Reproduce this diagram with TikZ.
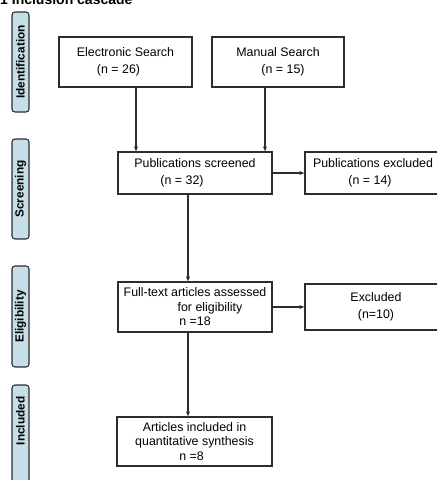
\documentclass[tikz,border=0pt]{standalone}
\usepackage{fontspec}
\setmainfont{Liberation Sans}
\usetikzlibrary{arrows.meta}
\definecolor{stageblue}{RGB}{197,222,232}
\definecolor{linegray}{RGB}{45,45,45}
\tikzset{
  box/.style={draw=linegray, line width=1.3pt, fill=white, rectangle,
    inner sep=0pt, align=center, font=\fontsize{12.4}{16.5}\selectfont},
  stage/.style={draw=linegray, line width=1.1pt, fill=stageblue,
    rounded corners=3pt, minimum width=17pt, inner sep=0pt},
  stagelabel/.style={rotate=90, font=\bfseries\fontsize{11.8}{12}\selectfont},
  flow/.style={draw=linegray, line width=1.1pt,
    -{Stealth[length=5pt,width=4pt]}},
}
\begin{document}
\begin{tikzpicture}[x=1pt,y=-1pt]
\useasboundingbox (0,0) rectangle (437,480);
\fill[white] (0,0) rectangle (437,480);

% caption, cut by the page edge
\node[anchor=base west, inner sep=0pt, font=\bfseries\fontsize{14}{16}\selectfont]
  (title) at (0,4.5) {1 Inclusion cascade};

% stage bars on the left
\node[stage, minimum height=100pt] (sid) at (20.5,62) {};
\node[stagelabel] (lid) at (sid.center) {Identification};
\node[stage, minimum height=100pt] (ssc) at (20.5,189) {};
\node[stagelabel] (lsc) at (ssc.center) {Screening};
\node[stage, minimum height=101pt] (sel) at (20.5,316.5) {};
\node[stagelabel] (lel) at (sel.center) {Eligibility};
\node[stage, minimum height=105pt] (sin) at (20.5,437.5) {};
\node[stagelabel] (lin) at (20.5,421) {Included};

% flow boxes
\node[box, minimum width=133pt, minimum height=50pt] (elec) at (125.5,62)
  {Electronic Search\\\hspace*{-14pt}(n = 26)};
\node[box, minimum width=132pt, minimum height=50pt] (manual) at (278,62)
  {Manual Search\\\hspace*{10pt}(n = 15)};
\node[box, minimum width=154pt, minimum height=42pt] (screened) at (195,173)
  {Publications screened\\\hspace*{-26pt}(n = 32)};
\node[box, minimum width=136pt, minimum height=42pt] (pubexcl) at (373,173)
  {Publications excluded\\\hspace*{-6pt}(n = 14)};
\node[box, minimum width=154pt, minimum height=50pt,
  font=\fontsize{12.4}{14.5}\selectfont] (fulltext) at (195,307)
  {Full-text articles assessed\\\hspace*{30pt}for eligibility\\n =18};
\node[box, minimum width=142pt, minimum height=46pt] (excl) at (376,307)
  {Excluded\\(n=10)};
\node[box, minimum width=155pt, minimum height=49pt,
  font=\fontsize{12.4}{14.5}\selectfont] (incl) at (194.5,441.5)
  {Articles included in\\quantitative synthesis\\\hspace*{-6pt}n =8};

% connectors
\draw[flow] ([xshift=10.5pt]elec.south) -- ([xshift=10.5pt]elec.south |- screened.north);
\draw[flow] ([xshift=-13pt]manual.south) -- ([xshift=-13pt]manual.south |- screened.north);
\draw[flow] ([xshift=-7pt]screened.south) -- ([xshift=-7pt]screened.south |- fulltext.north);
\draw[flow] (screened.east) -- (pubexcl.west);
\draw[flow] ([xshift=-7pt]fulltext.south) -- ([xshift=-7pt]fulltext.south |- incl.north);
\draw[flow] (fulltext.east) -- (excl.west);
\end{tikzpicture}
\end{document}
